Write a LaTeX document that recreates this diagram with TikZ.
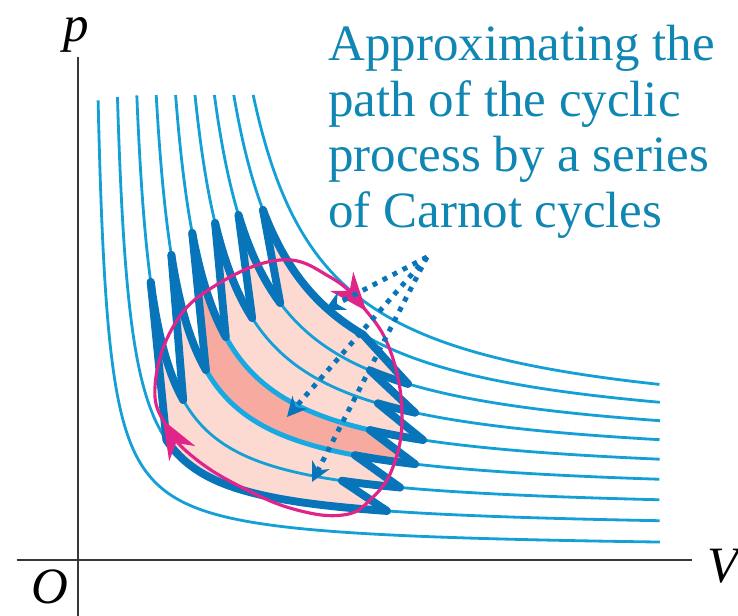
\documentclass[tikz,border=0pt]{standalone}
\usepackage{fontspec}
\setmainfont{Liberation Serif}
\usetikzlibrary{arrows.meta,decorations.markings}
\definecolor{IsoBlue}{RGB}{20,160,215}
\definecolor{CycleBlue}{RGB}{8,116,186}
\definecolor{BandBlue}{RGB}{24,168,226}
\definecolor{PinkLight}{RGB}{252,218,210}
\definecolor{PinkDark}{RGB}{246,170,160}
\definecolor{PathMagenta}{RGB}{224,36,138}
\definecolor{NoteBlue}{RGB}{16,134,178}
\definecolor{AxisGray}{RGB}{55,55,55}

\begin{document}
\begin{tikzpicture}[x=0.02cm,y=0.02cm,>=Stealth,
  declare function={
    isos(\u)=20+19.4*\u;
    isog(\u)=10+7.8*\u-0.7*\u*(8-\u);
    isoh(\u)=10+5.15*\u-0.7*\u*(8-\u);
    isoa(\u)=isos(\u)-isog(\u);
    isob(\u)=isos(\u)-isoh(\u);
    isor(\u)=sqrt(isog(\u))*sqrt(465-isob(\u));
    wY(\u,\h)=ln(isor(\u)/(\h-isob(\u)));
    wX(\u,\v)=ln((\v-isoa(\u))/isor(\u));
    isox(\u,\s)=isoa(\u)+isor(\u)*exp(\s);
    isoy(\u,\s)=isob(\u)+isor(\u)*exp(-(\s));
  },
  isotherm/.style={IsoBlue,line width=1.6pt},
  cycleline/.style={CycleBlue,line width=4.5pt,line cap=round,line join=round},
  bandline/.style={BandBlue,line width=2.8pt},
  pathline/.style={PathMagenta,line width=1.8pt},
  pointer/.style={CycleBlue,line width=2.8pt,dash pattern=on 2.8pt off 3.6pt,
    -{Stealth[length=11pt,width=11pt,inset=3.5pt]}},
  axis/.style={AxisGray,line width=1.7pt},
  axislabel/.style={font=\fontsize{29}{32}\selectfont\itshape,inner sep=0pt},
  notetext/.style={NoteBlue,font=\fontsize{29}{31.6}\selectfont,align=left,inner sep=0pt}]
  \useasboundingbox (-78,-56) rectangle (660,560);

  % Carnot strips between isotherm j and j+1
  \foreach \j/\ya/\yd/\xc in {1/278/120/309,2/305/160/322,3/327/190/337,
                              4/337/223/345,5/345/242/337,6/350/257/330}{
    \pgfmathtruncatemacro\jt{\j+1}
    \pgfmathsetmacro\wA{wY(\jt,\ya)}
    \pgfmathsetmacro\wB{wX(\jt,\xc-45)}
    \pgfmathsetmacro\wC{wX(\j,\xc)}
    \pgfmathsetmacro\wD{wY(\j,\yd)}
    \expandafter\xdef\csname wA\j\endcsname{\wA}
    \expandafter\xdef\csname wB\j\endcsname{\wB}
    \expandafter\xdef\csname wC\j\endcsname{\wC}
    \expandafter\xdef\csname wD\j\endcsname{\wD}
    \coordinate (a\j) at ({isox(\jt,\wA)},{isoy(\jt,\wA)});
    \coordinate (b\j) at ({isox(\jt,\wB)},{isoy(\jt,\wB)});
    \coordinate (c\j) at ({isox(\j,\wC)},{isoy(\j,\wC)});
    \coordinate (d\j) at ({isox(\j,\wD)},{isoy(\j,\wD)});
    \ifnum\j=3 \def\stripcol{PinkDark}\else\def\stripcol{PinkLight}\fi
    \fill[\stripcol] plot[domain=\wA:\wB,samples=40,variable=\t] ({isox(\jt,\t)},{isoy(\jt,\t)})
      -- plot[domain=\wC:\wD,samples=40,variable=\t] ({isox(\j,\t)},{isoy(\j,\t)}) -- cycle;
  }

  % isotherms
  \foreach \i in {0,...,8}{
    \pgfmathsetmacro\wtop{wY(\i,465)}
    \pgfmathsetmacro\wend{wX(\i,582)}
    \draw[isotherm] plot[domain=\wtop:\wend,samples=80,smooth,variable=\t] ({isox(\i,\t)},{isoy(\i,\t)});
  }

  % highlighted cycle
  \edef\ws{\csname wA3\endcsname}\edef\we{\csname wB3\endcsname}
  \draw[bandline] plot[domain=\ws:\we,samples=40,variable=\t] ({isox(4,\t)},{isoy(4,\t)});
  \edef\ws{\csname wD3\endcsname}\edef\we{\csname wC3\endcsname}
  \draw[bandline] plot[domain=\ws:\we,samples=40,variable=\t] ({isox(3,\t)},{isoy(3,\t)});

  % outline of the series of cycles
  \foreach \j in {1,...,6}{
    \draw[cycleline] (d\j) -- (a\j);
    \draw[cycleline] (b\j) -- (c\j);
  }
  \foreach \j in {1,...,5}{
    \pgfmathtruncatemacro\jt{\j+1}
    \edef\ws{\csname wA\j\endcsname}\edef\we{\csname wD\jt\endcsname}
    \draw[cycleline] plot[domain=\ws:\we,samples=30,variable=\t] ({isox(\jt,\t)},{isoy(\jt,\t)});
  }
  \foreach \j in {2,...,6}{
    \pgfmathtruncatemacro\jb{\j-1}
    \edef\ws{\csname wC\j\endcsname}\edef\we{\csname wB\jb\endcsname}
    \draw[cycleline] plot[domain=\ws:\we,samples=30,variable=\t] ({isox(\j,\t)},{isoy(\j,\t)});
  }
  \edef\ws{\csname wA6\endcsname}\edef\we{\csname wB6\endcsname}
  \draw[cycleline] plot[domain=\ws:\we,samples=50,variable=\t] ({isox(7,\t)},{isoy(7,\t)});
  \edef\ws{\csname wD1\endcsname}\edef\we{\csname wC1\endcsname}
  \draw[cycleline] plot[domain=\ws:\we,samples=50,variable=\t] ({isox(1,\t)},{isoy(1,\t)});

  % cyclic process
  \draw[pathline,postaction={decorate},decoration={markings,
      mark=at position 0.30 with {\arrow{Stealth[length=22pt,width=17pt,inset=7pt]}},
      mark=at position 0.875 with {\arrow{Stealth[length=22pt,width=17pt,inset=7pt]}}}]
    plot[smooth cycle,tension=0.7] coordinates {(77,173) (95,233) (135,273) (202,300)
      (252,283) (285,253) (312,210) (324,147) (315,93) (292,60) (265,45) (219,50)
      (169,70) (119,100) (89,133)};

  % pointers from the note
  \coordinate (src) at (349,303);
  \coordinate (tip1) at (247,250);
  \coordinate (tip2) at (209,143);
  \coordinate (tip3) at (234,78);
  \draw[pointer] (src) -- (tip1);
  \draw[pointer] (src) -- (tip2);
  \draw[pointer] (src) -- (tip3);

  \node[notetext,anchor=north west] (note) at (250,535)
    {Approximating the\\path of the cyclic\\process by a series\\of Carnot cycles};

  % axes
  \coordinate (O) at (0,0);
  \draw[axis] (0,503) -- (0,-56);
  \draw[axis] (-61,0) -- (614,0);
  \node[axislabel] (plabel) at (-2,525) {p};
  \node[axislabel] (Vlabel) at (645,-6) {V};
  \node[axislabel] (Olabel) at (-28,-27) {O};
\end{tikzpicture}
\end{document}
